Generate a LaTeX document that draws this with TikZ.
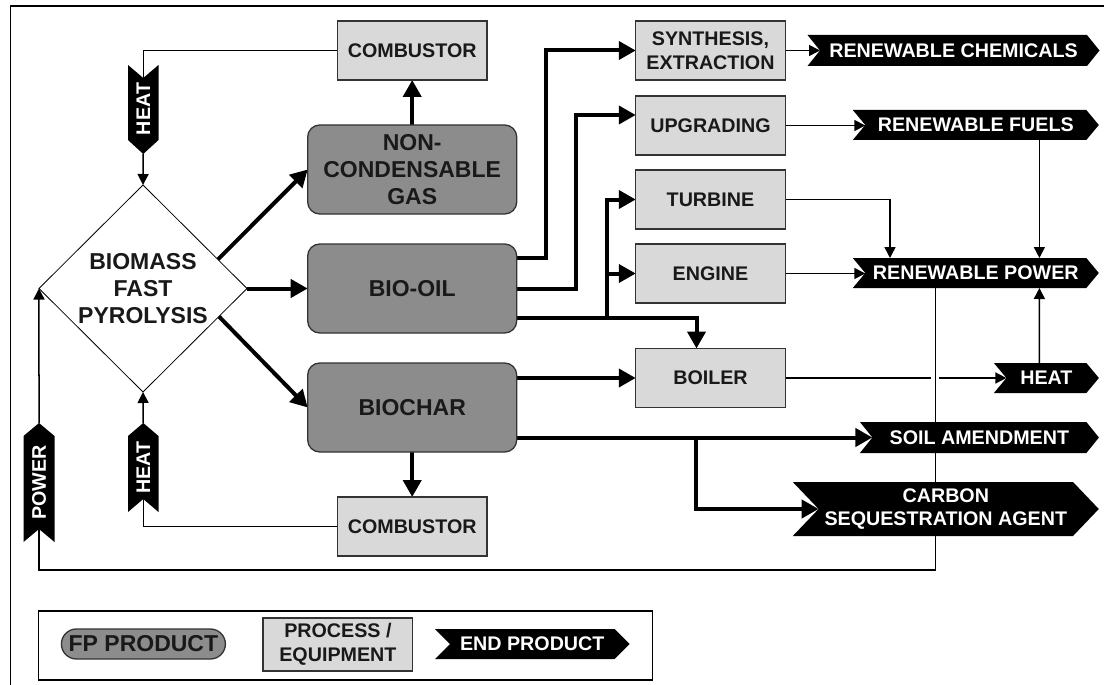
\documentclass[tikz,border=0pt]{standalone}
\usepackage{fontspec}
\setmainfont{Liberation Sans}
\usepackage{graphicx}
\usetikzlibrary{calc,arrows.meta,shapes.geometric,backgrounds}
\definecolor{fpgray}{HTML}{8C8C8C}
\definecolor{procgray}{HTML}{D9D9D9}
\definecolor{edgegray}{HTML}{333333}
\newcommand\fsmall{\fontsize{19.7bp}{23.5bp}\selectfont\bfseries}
\newcommand\fbig{\fontsize{23bp}{27bp}\selectfont\bfseries}
\tikzset{
 every node/.style={outer sep=0pt, inner sep=0pt, align=center},
 fpbox/.style={draw=edgegray, line width=1.3bp, fill=fpgray, rounded corners=12bp, font=\fbig, text=black!90, minimum width=209bp, minimum height=89bp},
 procbox/.style={draw=edgegray, line width=1.3bp, fill=procgray, font=\fsmall, text=black!90, minimum width=149.5bp, minimum height=59bp},
 endtext/.style={font=\fsmall, text=white},
 endfill/.style={fill=black},
 thickarr/.style={line width=4bp, -{Triangle[length=17bp,width=18bp]}},
 thinarr/.style={line width=1.5bp, -{Triangle[length=11bp,width=11bp]}},
 thinline/.style={line width=1.5bp},
}
% name, cx, cy, body width, height, depth, text
\newcommand\chevR[7]{%
  \fill[endfill] ({#2-#4/2-#6},{#3-#5/2}) -- ({#2+#4/2},{#3-#5/2}) -- ({#2+#4/2+#6},{#3}) -- ({#2+#4/2},{#3+#5/2}) -- ({#2-#4/2-#6},{#3+#5/2}) -- ({#2-#4/2},{#3}) -- cycle;
  \node[endtext, minimum width=#4bp, minimum height=#5bp] (#1) at (#2,#3) {#7};
}
\begin{document}
\begin{tikzpicture}[x=1bp,y=-1bp]
\useasboundingbox (0,0) rectangle (1104,685);
\begin{scope}[on background layer]
\fill[white] (0,0) rectangle (1104,685);
\end{scope}
% frame
\draw[line width=1.8bp] (10.5,700) -- (10.5,6) -- (1120,6);

% FP products and processes
\node[procbox] (comb1) at (412.2,50.5) {COMBUSTOR};
\node[procbox] (comb2) at (412.2,526.5) {COMBUSTOR};
\node[fpbox] (ncg) at (412.2,169.5) {NON-\\CONDENSABLE\\GAS};
\node[fpbox] (biooil) at (412.2,288.5) {BIO-OIL};
\node[fpbox] (biochar) at (412.2,407.5) {BIOCHAR};
\node[diamond, draw, line width=0.8bp, fill=white, minimum width=208bp, minimum height=207bp] (diam) at (143,288.5) {};
\node[font=\fbig, text=black!90] at (diam.center) {BIOMASS\\FAST\\PYROLYSIS};

\node[procbox] (synth) at (710.5,50.5) {SYNTHESIS,\\EXTRACTION};
\node[procbox] (upg) at (710.5,125.5) {UPGRADING};
\node[procbox] (turbine) at (710.5,199.5) {TURBINE};
\node[procbox] (engine) at (710.5,273.5) {ENGINE};
\node[procbox] (boiler) at (710.5,378) {BOILER};

% end products
\chevR{chem}{953.5}{50.5}{267}{31}{12.5}{RENEWABLE CHEMICALS}
\chevR{fuels}{975.8}{125}{221}{30}{12.5}{RENEWABLE FUELS}
\chevR{rpower}{975.8}{273}{221}{30}{12.5}{RENEWABLE POWER}
\chevR{heatR}{1046.4}{378}{80}{30}{12.5}{HEAT}
\chevR{soil}{979.4}{437.5}{214}{31}{12.5}{SOIL AMENDMENT}
\chevR{carbon}{945.8}{509}{254.4}{54}{25.8}{CARBON\\SEQUESTRATION AGENT}

% vertical chevrons
\fill[endfill] (128,65) -- (143.25,78) -- (158.5,65) -- (158.5,140) -- (143.25,154) -- (128,140) -- cycle;
\node[endtext, minimum width=30.5bp, minimum height=62bp] (heat1) at (143.25,109) {\rotatebox{90}{HEAT}};
\fill[endfill] (143.25,423) -- (158.5,436) -- (158.5,512) -- (143.25,499) -- (128,512) -- (128,436) -- cycle;
\node[endtext, minimum width=30.5bp, minimum height=63bp] (heat2) at (143.25,467.5) {\rotatebox{90}{HEAT}};
\fill[endfill] (39,423) -- (54.5,436) -- (54.5,542) -- (39,529) -- (23.5,542) -- (23.5,436) -- cycle;
\node[endtext, minimum width=31bp, minimum height=93bp] (power) at (39,482.5) {\rotatebox{90}{POWER}};

% legend
\draw[line width=1.5bp] (38.6,611) rectangle (652.5,680);
\node[fpbox, rounded corners=15bp, minimum width=164bp, minimum height=30bp] (lfp) at (143.4,644) {FP PRODUCT};
\node[procbox, minimum width=149.8bp, minimum height=53bp] (lproc) at (337.9,644.5) {PROCESS /\\EQUIPMENT};
\chevR{lend}{532.25}{644}{164.5}{30}{15}{END PRODUCT}

% connectors
\begin{scope}[on background layer]
\draw[thickarr] ($(diam.north)!0.72!(diam.east)$) -- (ncg.west);
\draw[thickarr] (diam.east) -- (biooil.west);
\draw[thickarr] ($(diam.east)!0.27!(diam.south)$) -- (biochar.west);
\draw[thickarr] (ncg.north) -- (comb1.south);
\draw[thickarr] (biochar.south) -- (comb2.north);
\draw[thickarr] ($(biooil.east)+(0,-30.5)$) -| ($(synth.west)+(-90,0)$) -- (synth.west);
\draw[thickarr] (biooil.east) -| ($(upg.west)+(-60,-10.5)$) -- ($(upg.west)+(0,-10.5)$);
\draw[thickarr] ($(biooil.east)+(0,29.5)$) -| ($(boiler.north)+(-14,0)$);
\coordinate (j1) at ($(biooil.east)+(90,29.5)$);
\draw[thickarr] ($(j1)+(0,2)$) |- (turbine.west);
\draw[thickarr] (j1 |- engine.west) -- (engine.west);
\draw[thickarr] (biochar.east |- boiler.west) -- (boiler.west);
\draw[thickarr] (biochar.east |- soil.west) -- (soil.west);
\coordinate (j2) at ($(biochar.east |- soil.west)+(179.5,0)$);
\draw[thickarr] (j2) |- (carbon.west);

\draw[thinline] (comb1.west) -| (heat1.north);
\draw[thinarr] ($(heat1.south)+(0,14)$) -- (diam.north);
\draw[thinline] (comb2.west) -| (heat2.south);
\draw[thinarr] ($(heat2.north)+(0,-13)$) -- (diam.south);
\draw[thinarr] (synth.east) -- (chem.west);
\draw[thinarr] (upg.east) -- (upg.east -| fuels.west);
\draw[thinarr] (turbine.east) -| ($(rpower.north west)+(24.7,0)$);
\draw[thinarr] (engine.east) -- (engine.east -| rpower.west);
\draw[thinarr] ($(fuels.south west)+(174.1,0)$) -- ($(rpower.north west)+(174.1,0)$);
\draw[thinarr] ($(heatR.north west)+(32.9,0)$) -- ($(rpower.south west)+(174.1,0)$);
\draw[thinarr] (boiler.east) -- (heatR.west);
\draw[thinline, preaction={draw=white, line width=8bp}] ($(rpower.south west)+(70,0)$) -- ++(0,282) -| (power.south);
\draw[thinarr] ($(power.north)+(0,-13)$) -- (diam.west);
\end{scope}
\end{tikzpicture}
\end{document}
